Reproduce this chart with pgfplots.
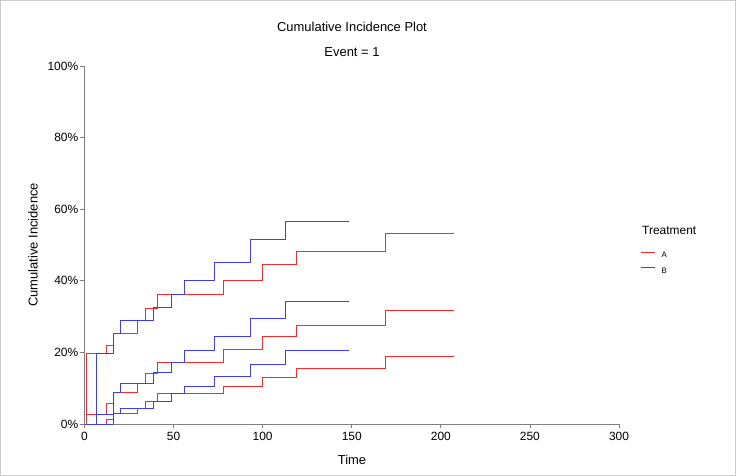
\documentclass[border=0pt]{standalone}
\usepackage{pgfplots}
\pgfplotsset{compat=1.18}
\usepackage{fontspec}
\setmainfont{Liberation Sans}
\definecolor{axgray}{RGB}{128,128,128}
\definecolor{cA}{RGB}{255,40,40}
\definecolor{cB}{RGB}{60,60,255}
\begin{document}
\begin{tikzpicture}
\useasboundingbox (0,0) rectangle (736bp,476bp);
\draw[gray!40, line width=0.8bp] (0.4bp,0.4bp) rectangle (735.6bp,475.6bp);
\begin{axis}[
  at={(84.5bp,52bp)}, anchor=origin,
  scale only axis, width=534.5bp, height=358bp,
  xmin=0, xmax=300, ymin=0, ymax=100,
  axis x line*=bottom, axis y line*=left,
  axis line style={axgray, line width=0.8bp},
  every tick/.style={axgray, line width=0.8bp},
  tick align=outside, major tick length=4bp,
  xtick={0,50,...,300}, ytick={0,20,...,100},
  yticklabel={\pgfmathprintnumber{\tick}\%},
  /pgf/number format/assume math mode=true,
  tick label style={font=\fontsize{12}{13}\selectfont},
  xticklabel style={yshift=-0.5bp},
  yticklabel style={xshift=1.5bp},
  clip=false,
  legend style={at={(1.0393,0.4818)}, anchor=north west, draw=none, fill=none,
    inner sep=0pt, outer sep=0pt, row sep=9.3bp, column sep=6bp,
    nodes={inner sep=0pt, text height=5.7bp, text depth=0pt, font=\fontsize{8}{9}\selectfont}},
  legend cell align=left,
  legend image code/.code={\draw[#1] (0bp,2.85bp) -- (14.5bp,2.85bp);},
  line width=1bp,
]
\addlegendimage{draw=cA, line width=1bp}
\addlegendentry{A}
\addlegendimage{draw=cB, line width=1bp}
\addlegendentry{B}
% Treatment A: lower, estimate, upper
\addplot[const plot, draw=cA, forget plot] coordinates {(0,0) (12.5,1.2) (16,2.8) (30,4.2) (34,6.4) (41,8.5) (78,10.4) (100,13.1) (119,15.6) (169,18.9) (207.5,18.9)};
\addplot[const plot, draw=cA, forget plot] coordinates {(0,0) (1,2.6) (12.5,5.7) (16,8.7) (30,11.3) (34,14.2) (41,17.3) (78,20.8) (100,24.4) (119,27.6) (169,31.8) (207.5,31.8)};
\addplot[const plot, draw=cA, forget plot] coordinates {(0,0) (1,19.8) (12.5,22.0) (16,25.3) (30,28.8) (34,32.4) (41,36.1) (78,40.2) (100,44.6) (119,48.3) (169,53.3) (207.5,53.3)};
% Treatment B: lower, estimate, upper
\addplot[const plot, draw=cB, forget plot] coordinates {(0,0) (16,2.8) (20,4.2) (38.8,6.3) (49,8.5) (56,10.4) (73,13.4) (93,16.5) (113,20.5) (148.5,20.5)};
\addplot[const plot, draw=cB, forget plot] coordinates {(0,0) (7,2.6) (16,8.7) (20,11.3) (38.8,14.3) (49,17.3) (56,20.6) (73,24.5) (93,29.5) (113,34.3) (148.5,34.3)};
\addplot[const plot, draw=cB, forget plot] coordinates {(0,0) (7,19.8) (16,25.3) (20,28.8) (38.8,32.6) (49,36.2) (56,40.0) (73,45.1) (93,51.4) (113,56.7) (148.5,56.7)};
\end{axis}
\node[anchor=base, font=\fontsize{13}{14}\selectfont] at (352bp,444.4bp) {Cumulative Incidence Plot};
\node[anchor=base, font=\fontsize{13}{14}\selectfont] at (352bp,419.4bp) {Event = 1};
\node[anchor=base, font=\fontsize{13}{14}\selectfont] at (352bp,11.4bp) {Time};
\node[rotate=90, font=\fontsize{13}{14}\selectfont] at (33bp,231bp) {Cumulative Incidence};
\node[anchor=base west, inner sep=0pt, font=\fontsize{12}{13}\selectfont] at (642bp,241.7bp) {Treatment};
\end{tikzpicture}
\end{document}
